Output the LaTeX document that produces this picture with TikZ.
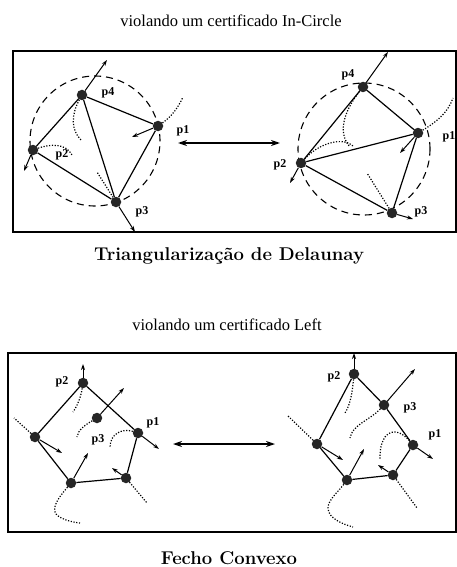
\documentclass[tikz,border=0pt]{standalone}
\usepackage{fontspec}
\newfontfamily\tms{Liberation Serif}
\usetikzlibrary{arrows.meta}
\tikzset{
  vtx/.style={circle,fill=black!85,inner sep=0pt,minimum size=10.5pt},
  seg/.style={line width=1.2pt},
  vel/.style={line width=1pt,-{Stealth[length=6pt,width=4pt]}},
  dbl/.style={line width=1.4pt,{Stealth[length=9pt,width=6pt]}-{Stealth[length=9pt,width=6pt]}},
  trail/.style={line width=1.2pt,dash pattern=on 1.2pt off 1.6pt},
  circ/.style={line width=1.1pt,dash pattern=on 7pt off 5pt},
  frame/.style={line width=1.2pt},
  lbl/.style={font=\tms\bfseries\fontsize{12}{13}\selectfont,inner sep=0pt},
  ttl/.style={font=\tms\fontsize{16.5}{18}\selectfont,inner sep=0pt,anchor=base},
  capt/.style={font=\bfseries\fontsize{18.5}{20}\selectfont,inner sep=0pt,anchor=base}
}
\begin{document}
\begin{tikzpicture}[x=1pt,y=-1pt]
\useasboundingbox (0,0) rectangle (457,567);
\fill[white] (0,0) rectangle (457,567);

% titles
\node[ttl] (t1) at (231,27) {violando um certificado In-Circle};
\node[ttl] (t3) at (227,330) {violando um certificado Left};
\node[capt] (t2) at (229,260) {Triangularização de Delaunay};
\node[capt] (t4) at (229,564) {Fecho Convexo};

% frames
\draw[frame] (13,51) rectangle (456,232);
\draw[frame] (8,353) rectangle (456,532);

% ---------- top left ----------
\draw[circ] (95,141) circle[radius=65pt];
\node[vtx] (a4) at (82,95) {};
\node[vtx] (a1) at (158,126) {};
\node[vtx] (a2) at (33,150) {};
\node[vtx] (a3) at (116,202) {};
\draw[seg] (a4)--(a1) (a4)--(a2) (a4)--(a3) (a1)--(a3) (a2)--(a3);
\coordinate (a4v) at (107,60);
\coordinate (a1v) at (132,137);
\coordinate (a2v) at (24,171);
\coordinate (a3v) at (135,232);
\draw[vel] (a4)--(a4v);
\draw[vel] (a1)--(a1v);
\draw[vel] (a2)--(a2v);
\draw[vel] (a3)--(a3v);
\coordinate (a1t) at (183,97);
\coordinate (a4t) at (81,140);
\coordinate (a2t) at (72,155);
\coordinate (a3t) at (97,172);
\draw[trail] (a1) .. controls (171,117) and (178,108) .. (a1t);
\draw[trail] (a4) .. controls (71,115) and (71,130) .. (a4t);
\draw[trail] (a2) .. controls (50,144) and (66,143) .. (a2t);
\draw[trail] (a3) -- (a3t);
\node[lbl] (la4) at (108,93) {p4};
\node[lbl] (la1) at (183,131) {p1};
\node[lbl] (la2) at (62,155) {p2};
\node[lbl] (la3) at (142,212) {p3};

\coordinate (da) at (178,143);
\coordinate (db) at (280,143);
\draw[dbl] (da)--(db);

% ---------- top right ----------
\draw[circ] (364,149) circle[radius=66pt];
\node[vtx] (b4) at (363,87) {};
\node[vtx] (b1) at (418,133) {};
\node[vtx] (b2) at (301,163) {};
\node[vtx] (b3) at (392,213) {};
\draw[seg] (b4)--(b1) (b4)--(b2) (b2)--(b1) (b2)--(b3) (b1)--(b3);
\coordinate (b4v) at (388,52);
\coordinate (b1v) at (400,153);
\coordinate (b2v) at (290,183);
\coordinate (b3v) at (413,219);
\draw[vel] (b4)--(b4v);
\draw[vel] (b1)--(b1v);
\draw[vel] (b2)--(b2v);
\draw[vel] (b3)--(b3v);
\coordinate (b1t) at (453,98);
\coordinate (b4t) at (350,147);
\coordinate (b2t) at (353,146);
\coordinate (b3t) at (367,173);
\draw[trail] (b1) .. controls (438,121) and (448,112) .. (b1t);
\draw[trail] (b4) .. controls (341,115) and (339,135) .. (b4t);
\draw[trail] (b2) .. controls (320,142) and (344,137) .. (b2t);
\draw[trail] (b3) -- (b3t);
\node[lbl] (lb4) at (348,75) {p4};
\node[lbl] (lb1) at (449,137) {p1};
\node[lbl] (lb2) at (280,165) {p2};
\node[lbl] (lb3) at (421,212) {p3};

% ---------- bottom left ----------
\node[vtx] (c2) at (83,383) {};
\node[vtx] (c3) at (97,418) {};
\node[vtx] (c1) at (138,433) {};
\node[vtx] (cA) at (35,437) {};
\node[vtx] (cB) at (71,483) {};
\node[vtx] (cC) at (126,478) {};
\draw[seg] (c2)--(c1) (c2)--(cA) (cA)--(cB) (cB)--(cC) (cC)--(c1);
\coordinate (c2v) at (83,364);
\coordinate (c3v) at (124,388);
\coordinate (c1v) at (159,449);
\coordinate (cAv) at (62,453);
\coordinate (cBv) at (88,453);
\coordinate (cCv) at (112,468);
\draw[vel] (c2)--(c2v);
\draw[vel] (c3)--(c3v);
\draw[vel] (c1)--(c1v);
\draw[vel] (cA)--(cAv);
\draw[vel] (cB)--(cBv);
\draw[vel] (cC)--(cCv);
\coordinate (c2t) at (73,412);
\coordinate (c3t) at (77,437);
\coordinate (c1t) at (110,447);
\coordinate (cAt) at (14,418);
\coordinate (cBt) at (80,523);
\coordinate (cCt) at (147,503);
\draw[trail] (c2) .. controls (81,396) and (78,405) .. (c2t);
\draw[trail] (c3) .. controls (85,425) and (78,430) .. (c3t);
\draw[trail] (c1) .. controls (122,428) and (110,434) .. (c1t);
\draw[trail] (cA) -- (cAt);
\draw[trail] (cB) .. controls (61,495) and (53,504) .. (55,512) .. controls (57,518) and (70,522) .. (cBt);
\draw[trail] (cC) -- (cCt);
\node[lbl] (lc2) at (62,382) {p2};
\node[lbl] (lc1) at (153,423) {p1};
\node[lbl] (lc3) at (98,440) {p3};

\coordinate (dc) at (173,444);
\coordinate (dd) at (275,444);
\draw[dbl] (dc)--(dd);

% ---------- bottom right ----------
\node[vtx] (d2) at (354,374) {};
\node[vtx] (d3) at (384,405) {};
\node[vtx] (d1) at (413,445) {};
\node[vtx] (dA) at (317,444) {};
\node[vtx] (dB) at (347,480) {};
\node[vtx] (dC) at (393,475) {};
\draw[seg] (d2)--(d3) (d3)--(d1) (d1)--(dC) (dC)--(dB) (dB)--(dA) (dA)--(d2);
\coordinate (d2v) at (354,353);
\coordinate (d3v) at (415,369);
\coordinate (d1v) at (433,459);
\coordinate (dAv) at (343,460);
\coordinate (dBv) at (364,449);
\coordinate (dCv) at (378,465);
\draw[vel] (d2)--(d2v);
\draw[vel] (d3)--(d3v);
\draw[vel] (d1)--(d1v);
\draw[vel] (dA)--(dAv);
\draw[vel] (dB)--(dBv);
\draw[vel] (dC)--(dCv);
\coordinate (d2t) at (345,413);
\coordinate (d3t) at (350,438);
\coordinate (d1t) at (380,460);
\coordinate (dAt) at (287,415);
\coordinate (dBt) at (353,527);
\coordinate (dCt) at (417,508);
\draw[trail] (d2) .. controls (352,395) and (350,405) .. (d2t);
\draw[trail] (d3) .. controls (370,420) and (352,425) .. (d3t);
\draw[trail] (d1) .. controls (402,432) and (392,428) .. (385,437) .. controls (380,445) and (380,452) .. (d1t);
\draw[trail] (dA) -- (dAt);
\draw[trail] (dB) .. controls (338,492) and (328,500) .. (328,508) .. controls (328,518) and (342,524) .. (dBt);
\draw[trail] (dC) -- (dCt);
\node[lbl] (ld2) at (334,377) {p2};
\node[lbl] (ld3) at (410,408) {p3};
\node[lbl] (ld1) at (435,435) {p1};
\end{tikzpicture}
\end{document}
